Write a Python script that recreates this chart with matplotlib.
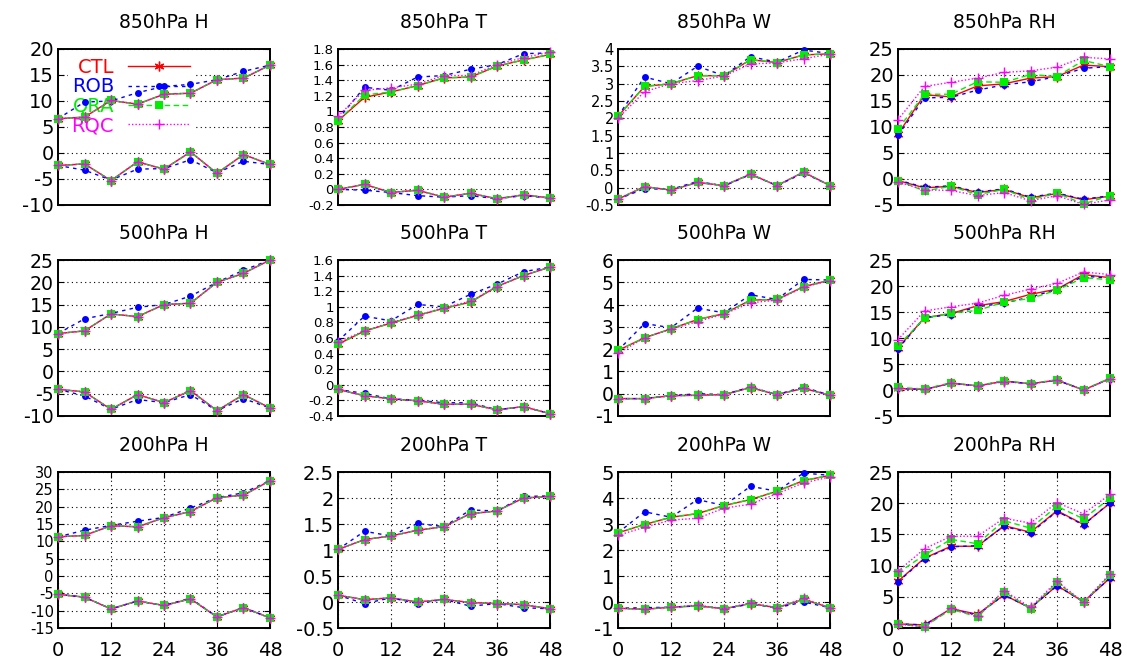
import matplotlib
matplotlib.use("Agg")
import matplotlib.pyplot as plt
from matplotlib.ticker import MultipleLocator, FuncFormatter

plt.rcParams["font.family"] = ["DejaVu Sans"]

# forecast lead time (hours)
fcst_hours = [0, 6, 12, 18, 24, 30, 36, 42, 48]
experiments = ["CTL", "ROB", "QRA", "RQC"]

# ---------------------------------------------------------------------------
# Data: upper curves = RMSE, lower curves = bias
# ---------------------------------------------------------------------------

h850_rmse = dict(
    CTL=[6.6, 6.9, 10.1, 9.4, 11.3, 11.5, 14.1, 14.4, 16.9],
    ROB=[6.6, 9.8, 10.0, 11.6, 12.8, 13.2, 14.1, 15.7, 16.9],
    QRA=[6.6, 6.9, 10.1, 9.4, 11.3, 11.5, 14.1, 14.4, 16.9],
    RQC=[6.6, 6.9, 10.1, 9.4, 11.3, 11.5, 14.1, 14.4, 16.9],
)
h850_bias = dict(
    CTL=[-2.4, -2.1, -5.3, -1.7, -3.1, 0.2, -3.9, -0.3, -2.2],
    ROB=[-2.4, -3.3, -5.2, -3.1, -3.0, -1.3, -3.8, -1.6, -2.2],
    QRA=[-2.4, -2.1, -5.3, -1.7, -3.1, 0.2, -3.9, -0.3, -2.2],
    RQC=[-2.4, -2.1, -5.3, -1.7, -3.1, 0.2, -3.9, -0.3, -2.2],
)

t850_rmse = dict(
    CTL=[0.88, 1.18, 1.25, 1.33, 1.43, 1.44, 1.58, 1.66, 1.73],
    ROB=[0.90, 1.31, 1.27, 1.44, 1.46, 1.54, 1.60, 1.74, 1.75],
    QRA=[0.88, 1.21, 1.25, 1.33, 1.43, 1.44, 1.58, 1.66, 1.73],
    RQC=[0.94, 1.27, 1.30, 1.35, 1.46, 1.46, 1.60, 1.69, 1.76],
)
t850_bias = dict(
    CTL=[0.0, 0.065, -0.04, -0.01, -0.10, -0.05, -0.12, -0.07, -0.11],
    ROB=[0.0, -0.01, -0.04, -0.08, -0.10, -0.08, -0.12, -0.08, -0.11],
    QRA=[0.0, 0.065, -0.04, -0.01, -0.10, -0.05, -0.12, -0.07, -0.11],
    RQC=[0.0, 0.065, -0.04, -0.01, -0.10, -0.05, -0.12, -0.07, -0.11],
)

w850_rmse = dict(
    CTL=[2.06, 2.92, 3.0, 3.23, 3.23, 3.69, 3.61, 3.83, 3.86],
    ROB=[2.06, 3.19, 3.0, 3.50, 3.23, 3.78, 3.62, 3.97, 3.87],
    QRA=[2.06, 2.92, 3.0, 3.23, 3.23, 3.69, 3.61, 3.83, 3.86],
    RQC=[2.0, 2.77, 3.0, 3.09, 3.22, 3.57, 3.60, 3.72, 3.85],
)
w850_bias = dict(
    CTL=[-0.33, 0.03, -0.07, 0.15, 0.06, 0.39, 0.06, 0.45, 0.06],
    ROB=[-0.33, -0.03, -0.05, 0.18, 0.05, 0.38, 0.06, 0.42, 0.07],
    QRA=[-0.33, 0.03, -0.07, 0.15, 0.06, 0.39, 0.06, 0.45, 0.06],
    RQC=[-0.33, 0.03, -0.07, 0.15, 0.06, 0.39, 0.06, 0.45, 0.06],
)

rh850_rmse = dict(
    CTL=[8.65, 16.2, 15.8, 17.9, 18.3, 19.4, 19.7, 21.9, 21.6],
    ROB=[8.4, 15.6, 15.7, 17.1, 18.1, 18.7, 19.7, 21.3, 21.6],
    QRA=[9.6, 16.3, 16.3, 18.7, 18.6, 20.1, 19.7, 22.8, 21.6],
    RQC=[11.4, 17.8, 18.6, 19.4, 20.5, 20.8, 21.5, 23.4, 23.1],
)
rh850_bias = dict(
    CTL=[-0.3, -1.7, -1.4, -2.6, -2.0, -3.6, -2.8, -4.0, -3.3],
    ROB=[-0.2, -1.6, -1.3, -2.5, -1.9, -3.5, -2.7, -3.9, -3.2],
    QRA=[-0.3, -2.3, -1.4, -3.0, -2.0, -4.0, -2.7, -4.8, -3.2],
    RQC=[-0.6, -2.1, -2.2, -3.2, -2.6, -4.2, -3.2, -4.9, -4.0],
)

h500_rmse = dict(
    CTL=[8.5, 9.1, 12.9, 12.3, 15.0, 15.3, 20.0, 22.0, 25.0],
    ROB=[8.5, 11.8, 13.0, 14.4, 15.0, 16.9, 20.0, 22.7, 25.0],
    QRA=[8.5, 9.1, 12.9, 12.3, 15.0, 15.3, 20.0, 22.0, 25.0],
    RQC=[8.5, 9.1, 12.9, 12.3, 15.0, 15.3, 20.0, 22.0, 25.0],
)
h500_bias = dict(
    CTL=[-4.0, -4.6, -8.5, -5.2, -7.0, -4.3, -8.8, -5.2, -8.2],
    ROB=[-4.0, -5.5, -8.5, -6.3, -7.0, -5.2, -8.8, -6.1, -8.2],
    QRA=[-4.0, -4.6, -8.5, -5.2, -7.0, -4.3, -8.8, -5.2, -8.2],
    RQC=[-4.0, -4.6, -8.5, -5.2, -7.0, -4.3, -8.8, -5.2, -8.2],
)

t500_rmse = dict(
    CTL=[0.52, 0.69, 0.79, 0.89, 0.98, 1.06, 1.26, 1.40, 1.51],
    ROB=[0.56, 0.88, 0.82, 1.03, 1.00, 1.16, 1.29, 1.45, 1.51],
    QRA=[0.52, 0.69, 0.79, 0.89, 0.98, 1.06, 1.26, 1.40, 1.51],
    RQC=[0.55, 0.69, 0.80, 0.89, 0.99, 1.07, 1.26, 1.40, 1.51],
)
t500_bias = dict(
    CTL=[-0.06, -0.14, -0.18, -0.205, -0.25, -0.25, -0.32, -0.28, -0.37],
    ROB=[-0.06, -0.11, -0.18, -0.20, -0.23, -0.23, -0.32, -0.28, -0.37],
    QRA=[-0.06, -0.14, -0.18, -0.205, -0.25, -0.25, -0.32, -0.28, -0.37],
    RQC=[-0.06, -0.14, -0.18, -0.205, -0.25, -0.25, -0.32, -0.28, -0.37],
)

w500_rmse = dict(
    CTL=[1.94, 2.51, 2.91, 3.33, 3.59, 4.20, 4.23, 4.80, 5.10],
    ROB=[1.94, 3.15, 2.96, 3.84, 3.63, 4.44, 4.23, 5.13, 5.10],
    QRA=[1.94, 2.51, 2.91, 3.33, 3.59, 4.20, 4.23, 4.80, 5.10],
    RQC=[1.81, 2.51, 2.90, 3.24, 3.57, 4.08, 4.20, 4.78, 5.08],
)
w500_bias = dict(
    CTL=[-0.22, -0.22, -0.09, -0.07, -0.04, 0.27, -0.04, 0.24, -0.07],
    ROB=[-0.22, -0.22, -0.09, 0.0, -0.04, 0.30, -0.04, 0.30, -0.07],
    QRA=[-0.22, -0.22, -0.09, -0.07, -0.04, 0.27, -0.04, 0.24, -0.07],
    RQC=[-0.22, -0.22, -0.09, -0.07, -0.04, 0.30, -0.04, 0.26, -0.07],
)

rh500_rmse = dict(
    CTL=[8.1, 13.9, 14.7, 16.2, 17.0, 18.4, 19.4, 22.2, 21.6],
    ROB=[7.9, 13.9, 14.5, 16.0, 16.7, 17.9, 19.3, 21.9, 21.5],
    QRA=[8.5, 13.8, 14.8, 15.3, 16.9, 17.6, 19.2, 21.6, 21.2],
    RQC=[9.7, 15.2, 16.0, 16.7, 18.2, 19.4, 20.5, 22.7, 22.2],
)
rh500_bias = dict(
    CTL=[0.3, 0.1, 1.3, 0.8, 1.7, 1.2, 1.9, 0.0, 2.2],
    ROB=[0.3, 0.1, 1.3, 0.8, 1.7, 1.2, 1.9, 0.0, 2.2],
    QRA=[0.5, 0.2, 1.4, 0.8, 1.8, 1.2, 2.0, 0.0, 2.3],
    RQC=[0.3, 0.1, 1.3, 0.8, 1.6, 1.2, 1.9, 0.0, 2.1],
)

h200_rmse = dict(
    CTL=[11.3, 11.7, 14.5, 14.2, 16.8, 18.6, 22.6, 23.3, 27.5],
    ROB=[11.3, 13.2, 14.6, 15.8, 16.9, 19.6, 22.6, 24.0, 27.5],
    QRA=[11.3, 11.7, 14.5, 14.2, 16.8, 18.6, 22.6, 23.3, 27.5],
    RQC=[11.3, 11.7, 14.5, 14.2, 16.8, 18.6, 22.6, 23.3, 27.5],
)
h200_bias = dict(
    CTL=[-5.3, -6.1, -9.5, -7.2, -8.5, -6.6, -11.8, -9.1, -12.1],
    ROB=[-5.3, -6.1, -9.5, -7.2, -8.5, -6.4, -11.8, -9.1, -12.1],
    QRA=[-5.3, -6.1, -9.5, -7.2, -8.5, -6.6, -11.8, -9.1, -12.1],
    RQC=[-5.3, -6.1, -9.5, -7.2, -8.5, -6.6, -11.8, -9.1, -12.1],
)

t200_rmse = dict(
    CTL=[1.01, 1.20, 1.27, 1.38, 1.45, 1.70, 1.75, 2.00, 2.03],
    ROB=[1.01, 1.36, 1.27, 1.51, 1.45, 1.77, 1.75, 2.03, 2.04],
    QRA=[1.01, 1.20, 1.27, 1.38, 1.45, 1.70, 1.75, 2.00, 2.03],
    RQC=[1.01, 1.20, 1.27, 1.38, 1.45, 1.70, 1.75, 2.00, 2.03],
)
t200_bias = dict(
    CTL=[0.13, 0.045, 0.08, 0.0, 0.05, -0.01, -0.03, -0.05, -0.13],
    ROB=[0.13, -0.03, 0.08, -0.03, 0.05, -0.08, -0.03, -0.11, -0.13],
    QRA=[0.13, 0.045, 0.08, 0.0, 0.05, -0.01, -0.03, -0.05, -0.13],
    RQC=[0.13, 0.045, 0.08, 0.0, 0.05, -0.01, -0.03, -0.05, -0.13],
)

w200_rmse = dict(
    CTL=[2.66, 2.98, 3.26, 3.40, 3.71, 3.94, 4.26, 4.67, 4.87],
    ROB=[2.66, 3.47, 3.26, 3.94, 3.71, 4.45, 4.26, 4.96, 4.87],
    QRA=[2.66, 2.98, 3.26, 3.40, 3.71, 3.94, 4.26, 4.67, 4.87],
    RQC=[2.56, 2.88, 3.15, 3.22, 3.61, 3.76, 4.17, 4.58, 4.81],
)
w200_bias = dict(
    CTL=[-0.24, -0.28, -0.20, -0.15, -0.26, -0.06, -0.22, 0.10, -0.22],
    ROB=[-0.24, -0.22, -0.20, -0.15, -0.26, -0.08, -0.22, 0.0, -0.22],
    QRA=[-0.24, -0.28, -0.20, -0.15, -0.26, -0.06, -0.22, 0.10, -0.22],
    RQC=[-0.24, -0.28, -0.20, -0.12, -0.26, -0.03, -0.22, 0.14, -0.22],
)

rh200_rmse = dict(
    CTL=[7.5, 11.2, 13.1, 13.1, 16.4, 15.35, 18.8, 16.6, 20.0],
    ROB=[7.4, 11.1, 13.0, 13.2, 16.3, 15.2, 18.7, 16.5, 20.1],
    QRA=[8.85, 11.7, 14.2, 13.5, 17.2, 16.0, 19.5, 17.5, 20.8],
    RQC=[9.1, 12.7, 14.7, 14.7, 17.6, 16.8, 20.1, 18.3, 21.4],
)
rh200_bias = dict(
    CTL=[0.65, 0.5, 3.1, 2.2, 5.3, 3.2, 6.8, 4.2, 8.0],
    ROB=[0.65, 0.5, 3.0, 2.1, 5.3, 3.2, 6.8, 4.2, 8.0],
    QRA=[0.6, 0.2, 3.0, 1.8, 5.8, 3.1, 7.3, 4.1, 8.5],
    RQC=[0.6, 0.2, 3.2, 1.9, 6.0, 3.3, 7.5, 4.1, 8.7],
)

titles = [
    "850hPa H", "850hPa T", "850hPa W", "850hPa RH",
    "500hPa H", "500hPa T", "500hPa W", "500hPa RH",
    "200hPa H", "200hPa T", "200hPa W", "200hPa RH",
]
rmse_sets = [h850_rmse, t850_rmse, w850_rmse, rh850_rmse,
             h500_rmse, t500_rmse, w500_rmse, rh500_rmse,
             h200_rmse, t200_rmse, w200_rmse, rh200_rmse]
bias_sets = [h850_bias, t850_bias, w850_bias, rh850_bias,
             h500_bias, t500_bias, w500_bias, rh500_bias,
             h200_bias, t200_bias, w200_bias, rh200_bias]
y_ranges = [(-10, 20), (-0.2, 1.8), (-0.5, 4), (-5, 25),
            (-10, 25), (-0.4, 1.6), (-1, 6), (-5, 25),
            (-15, 30), (-0.5, 2.5), (-1, 5), (0, 25)]
y_steps = [5, 0.2, 0.5, 5,
           5, 0.2, 1, 5,
           5, 0.5, 1, 5]

# gnuplot-like line styles
styles = {
    "CTL": dict(color="#ff0000", ls="-", marker=(6, 2, 0), ms=7, mew=1.0),
    "ROB": dict(color="#0000ff", ls=(0, (2.5, 3)), marker="o", ms=5, mew=0),
    "QRA": dict(color="#00ee00", ls=(0, (4, 2.5)), marker="s", ms=6, mew=0),
    "RQC": dict(color="#ff00ff", ls=(0, (1, 1.5)), marker="+", ms=7, mew=1.0),
}

W, H = 1127, 659
col_left = [58, 338, 618, 898]
row_top = [49, 260, 472]
ax_w, ax_h = 212, 156

fig = plt.figure(figsize=(W / 100, H / 100), dpi=100)
fmt = FuncFormatter(lambda v, p: "%g" % round(v, 6))

for i, title in enumerate(titles):
    r, c = divmod(i, 4)
    ax = fig.add_axes([col_left[c] / W, 1 - (row_top[r] + ax_h) / H,
                       ax_w / W, ax_h / H])
    handles = []
    for exp in experiments:
        st = styles[exp]
        kw = dict(color=st["color"], ls=st["ls"], lw=1.0, marker=st["marker"],
                  ms=st["ms"], mew=st["mew"], clip_on=False, zorder=3)
        ln, = ax.plot(fcst_hours, rmse_sets[i][exp], label=exp, **kw)
        ax.plot(fcst_hours, bias_sets[i][exp], **kw)
        handles.append(ln)

    ymin, ymax = y_ranges[i]
    ax.set_xlim(0, 48)
    ax.set_ylim(ymin, ymax)
    ax.yaxis.set_major_locator(MultipleLocator(y_steps[i]))
    ax.yaxis.set_major_formatter(fmt)

    # shrink tick labels where the y ticks are packed tightly
    tick_px = ax_h * y_steps[i] / (ymax - ymin)
    ysize = min(14, tick_px / 1.18 / 1.389)

    ax.set_title(title, fontsize=13.5, pad=15)
    ax.tick_params(axis="y", direction="in", left=True, right=True,
                   length=4, labelsize=ysize, pad=3)
    ax.grid(True, axis="y", color="black", ls=(0, (1, 3)), lw=0.8)
    if r == 2:
        ax.set_xticks([0, 12, 24, 36, 48])
        ax.tick_params(axis="x", direction="in", top=True, bottom=True,
                       length=4, labelsize=14, pad=9)
        ax.grid(True, axis="x", color="black", ls=(0, (1, 3)), lw=0.8)
    else:
        ax.set_xticks([])
    for sp in ax.spines.values():
        sp.set_linewidth(1.4)
    ax.set_axisbelow(True)

    if i == 0:
        leg = ax.legend(handles=handles, loc="upper left",
                        bbox_to_anchor=(0.0, 1.03), markerfirst=False,
                        numpoints=1, handlelength=3.2, handletextpad=0.7,
                        labelspacing=0.02, borderpad=0.2, fontsize=14,
                        frameon=True, facecolor="white", edgecolor="none",
                        framealpha=1.0, labelcolor="linecolor")
        leg.set_zorder(2)

fig.savefig("out.png", dpi=100)
